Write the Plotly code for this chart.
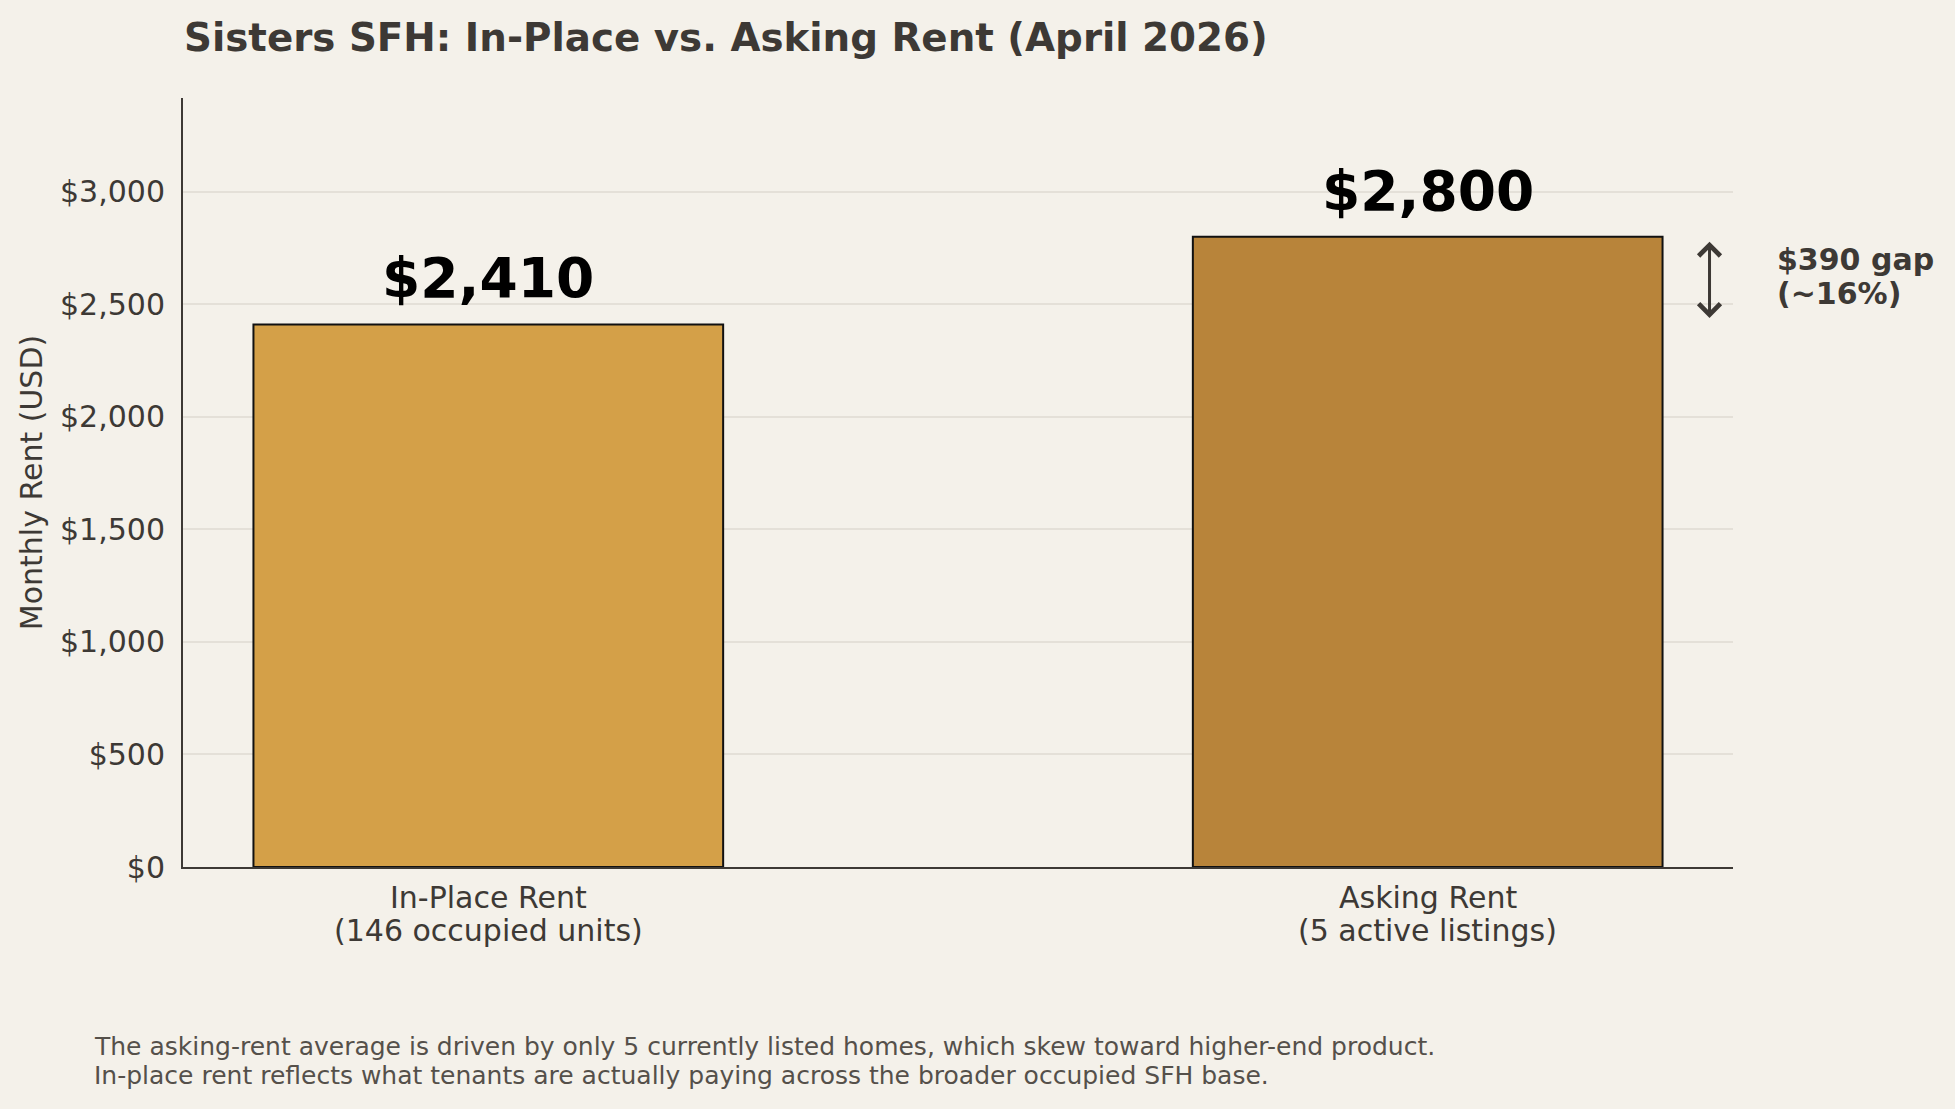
import plotly.graph_objects as go

categories = ["In-Place Rent", "Asking Rent"]
sub_labels = ["(146 occupied units)", "(5 active listings)"]
rents = [2410, 2800]
bar_colors = ["#d4a048", "#b8843a"]
value_labels = ["$2,410", "$2,800"]
ytick_vals = [0, 500, 1000, 1500, 2000, 2500, 3000]
ytick_text = ["$0", "$500", "$1,000", "$1,500", "$2,000", "$2,500", "$3,000"]
gap_text = ["$390 gap", "(~16%)"]
footer_lines = [
    "The asking-rent average is driven by only 5 currently listed homes, which skew toward higher-end product.",
    "In-place rent reflects what tenants are actually paying across the broader occupied SFH base.",
]
title_text = "Sisters SFH: In-Place vs. Asking Rent (April 2026)"

BG = "#f4f1ea"
DARK = "#3d3935"
FONT = "DejaVu Sans"

W, H = 1955, 1109
L, R, T, B = 183, 222, 98, 242
pw, ph = W - L - R, H - T - B
XR = [-0.325, 1.325]
YR = [0, 3416]

xpos = list(range(len(categories)))

fig = go.Figure()
fig.add_trace(go.Bar(
    x=xpos, y=rents, width=0.5,
    marker=dict(color=bar_colors, line=dict(color="#111111", width=2)),
    hoverinfo="skip",
))

annotations = []
# value labels
for xi, v, lab in zip(xpos, rents, value_labels):
    annotations.append(dict(x=xi, y=v, xref="x", yref="y", text=lab, showarrow=False,
                            yanchor="middle", yshift=46,
                            font=dict(family=FONT, size=55, color="#000000", weight="bold")))
# category labels
for xi, c, s in zip(xpos, categories, sub_labels):
    annotations.append(dict(x=xi, y=0, xref="x", yref="y", text=c, showarrow=False,
                            yanchor="middle", yshift=-30,
                            font=dict(family=FONT, size=30, color=DARK)))
    annotations.append(dict(x=xi, y=0, xref="x", yref="y", text=s, showarrow=False,
                            yanchor="middle", yshift=-63,
                            font=dict(family=FONT, size=30, color=DARK)))
# gap arrow
annotations.append(dict(x=1.3, y=rents[1], ax=1.3, ay=rents[0], xref="x", yref="y",
                        axref="x", ayref="y", text="", showarrow=True,
                        arrowhead=4, startarrowhead=4, arrowside="end+start",
                        arrowsize=1.4, startarrowsize=1.4, arrowwidth=3, arrowcolor=DARK,
                        standoff=5, startstandoff=5))
# gap text (paper x since it sits outside the x range)
mid = (rents[0] + rents[1]) / 2
gap_x_data = 1.37
gap_x_paper = (gap_x_data - XR[0]) / (XR[1] - XR[0])
for txt, sh in zip(gap_text, [21, -13]):
    annotations.append(dict(x=gap_x_paper, y=mid, xref="paper", yref="y", text=txt, showarrow=False,
                            xanchor="left", yanchor="middle", yshift=sh,
                            font=dict(family=FONT, size=30, color=DARK, weight="bold")))
# footer
for i, line in enumerate(footer_lines):
    px = 92
    py = 1046 + 29 * i
    annotations.append(dict(x=(px - L) / pw, y=1 - (py - T) / ph, xref="paper", yref="paper",
                            text=line, showarrow=False, xanchor="left", yanchor="middle",
                            font=dict(family=FONT, size=25, color="#55504a")))

fig.update_layout(
    width=W, height=H,
    margin=dict(l=L, r=R, t=T, b=B, pad=0),
    paper_bgcolor=BG, plot_bgcolor=BG,
    showlegend=False,
    title=dict(text=title_text, x=184 / W, xanchor="left", xref="container",
               y=1 - 37 / H, yanchor="middle", yref="container",
               font=dict(family=FONT, size=38.8, color=DARK, weight="bold")),
    annotations=annotations,
    xaxis=dict(range=XR, showticklabels=False, ticks="",
               showgrid=False, zeroline=False, showline=True, linecolor=DARK, linewidth=2,
               fixedrange=True),
    yaxis=dict(range=YR, tickvals=ytick_vals, ticktext=ytick_text, ticks="",
               tickfont=dict(family=FONT, size=30, color=DARK), ticklabelstandoff=10,
               showgrid=True, gridcolor="#e4e0d8", gridwidth=2, zeroline=False,
               showline=True, linecolor=DARK, linewidth=2,
               title=dict(text="Monthly Rent (USD)", standoff=9,
                          font=dict(family=FONT, size=30, color=DARK)),
               automargin=False, fixedrange=True),
)

fig.write_html("out.html")
